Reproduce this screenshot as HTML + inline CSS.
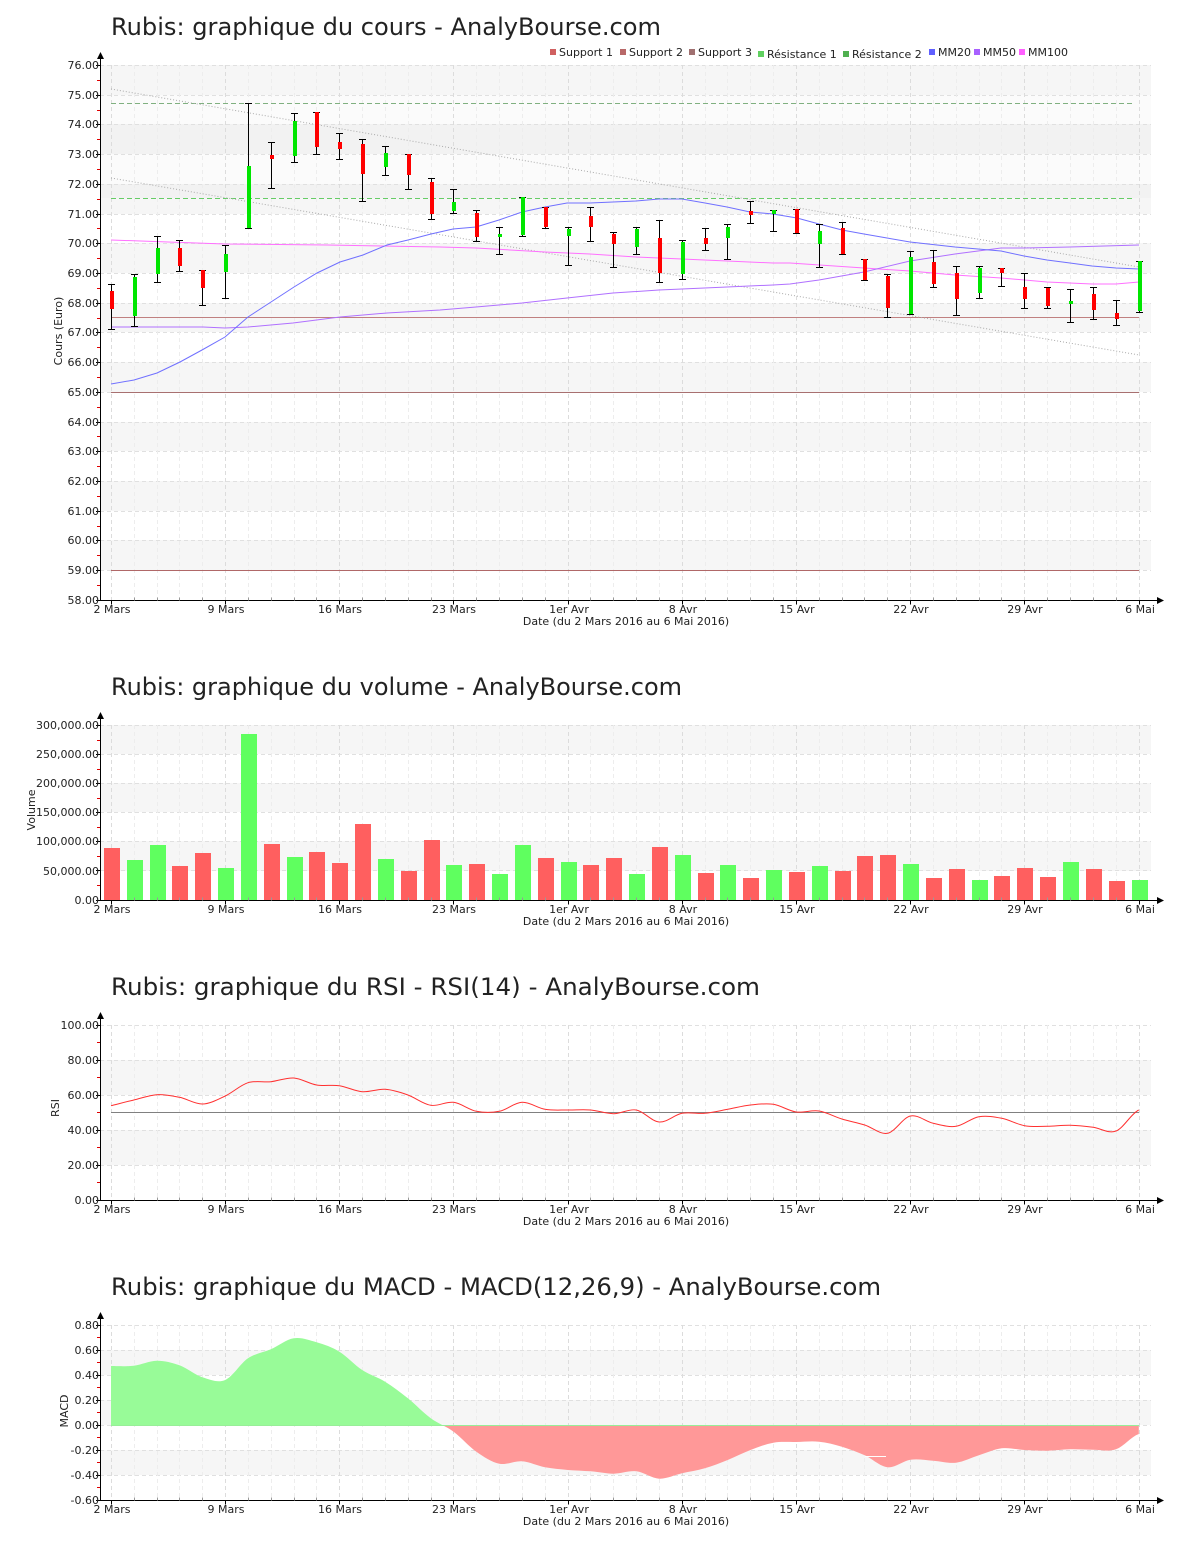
<!DOCTYPE html>
<html><head><meta charset="utf-8"><title>Rubis - AnalyBourse</title>
<style>
html,body{margin:0;padding:0;background:#fff;}
svg{display:block;}
text{font-family:"DejaVu Sans","Liberation Sans",sans-serif;fill:#222;}
.t{font-size:24px;}
.s{font-size:11px;}
</style></head>
<body>
<svg width="1200" height="1550" viewBox="0 0 1200 1550" xmlns="http://www.w3.org/2000/svg">
<defs>
<path id="dayV" d="M134.5 0v175M157.5 0v175M179.5 0v175M202.5 0v175M248.5 0v175M271.5 0v175M294.5 0v175M316.5 0v175M362.5 0v175M385.5 0v175M408.5 0v175M431.5 0v175M476.5 0v175M499.5 0v175M522.5 0v175M545.5 0v175M590.5 0v175M613.5 0v175M636.5 0v175M659.5 0v175M705.5 0v175M727.5 0v175M750.5 0v175M773.5 0v175M819.5 0v175M842.5 0v175M864.5 0v175M887.5 0v175M933.5 0v175M956.5 0v175M979.5 0v175M1001.5 0v175M1047.5 0v175M1070.5 0v175M1093.5 0v175M1116.5 0v175" fill="none" stroke="#ededed" stroke-dasharray="4 3"/>
<path id="weekV" d="M111.5 0v175M225.5 0v175M339.5 0v175M453.5 0v175M568.5 0v175M682.5 0v175M796.5 0v175M910.5 0v175M1024.5 0v175M1139.5 0v175" fill="none" stroke="#dcdcdc" stroke-dasharray="4 3"/>
<path id="dayV1" d="M134.5 0v535M157.5 0v535M179.5 0v535M202.5 0v535M248.5 0v535M271.5 0v535M294.5 0v535M316.5 0v535M362.5 0v535M385.5 0v535M408.5 0v535M431.5 0v535M476.5 0v535M499.5 0v535M522.5 0v535M545.5 0v535M590.5 0v535M613.5 0v535M636.5 0v535M659.5 0v535M705.5 0v535M727.5 0v535M750.5 0v535M773.5 0v535M819.5 0v535M842.5 0v535M864.5 0v535M887.5 0v535M933.5 0v535M956.5 0v535M979.5 0v535M1001.5 0v535M1047.5 0v535M1070.5 0v535M1093.5 0v535M1116.5 0v535" fill="none" stroke="#ededed" stroke-dasharray="4 3"/>
<path id="weekV1" d="M111.5 0v535M225.5 0v535M339.5 0v535M453.5 0v535M568.5 0v535M682.5 0v535M796.5 0v535M910.5 0v535M1024.5 0v535M1139.5 0v535" fill="none" stroke="#dcdcdc" stroke-dasharray="4 3"/>
<path id="xticks" d="M111.5 0v4M225.5 0v4M339.5 0v4M453.5 0v4M568.5 0v4M682.5 0v4M796.5 0v4M910.5 0v4M1024.5 0v4M1139.5 0v4" stroke="#000" fill="none"/>
<path id="xminor" d="M134.5 -3v3M157.5 -3v3M179.5 -3v3M202.5 -3v3M248.5 -3v3M271.5 -3v3M294.5 -3v3M316.5 -3v3M362.5 -3v3M385.5 -3v3M408.5 -3v3M431.5 -3v3M476.5 -3v3M499.5 -3v3M522.5 -3v3M545.5 -3v3M590.5 -3v3M613.5 -3v3M636.5 -3v3M659.5 -3v3M705.5 -3v3M727.5 -3v3M750.5 -3v3M773.5 -3v3M819.5 -3v3M842.5 -3v3M864.5 -3v3M887.5 -3v3M933.5 -3v3M956.5 -3v3M979.5 -3v3M1001.5 -3v3M1047.5 -3v3M1070.5 -3v3M1093.5 -3v3M1116.5 -3v3" stroke="#999" fill="none"/>
<clipPath id="clipUp"><rect x="100" y="1300" width="1060" height="125"/></clipPath>
<clipPath id="clipDn"><rect x="100" y="1425" width="1060" height="80"/></clipPath>
<path id="macdArea" d="M111 1366 C114.8 1366 126.2 1366.6 133.8 1365.7 S149.1 1360.8 156.7 1360.7 S171.9 1362.5 179.5 1365.3 S194.8 1374.9 202.4 1377.3 S217.6 1383.2 225.2 1380 S240.4 1363.4 248 1358.3 S263.3 1352.6 270.9 1349.3 S286.1 1339.5 293.7 1338.3 S309 1340.1 316.6 1342.3 S331.8 1347.1 339.4 1351.7 S354.6 1365 362.2 1370 S377.5 1377 385.1 1381.7 S400.3 1392.2 407.9 1398.3 S423.2 1412.7 430.8 1418.3 S446 1426.1 453.6 1431.7 S468.8 1446.4 476.4 1451.7 S491.7 1462.1 499.3 1463.7 S514.5 1460.7 522.1 1461.3 S537.4 1465.9 545 1467.3 S560.2 1469.3 567.8 1470 S583 1470.7 590.6 1471.3 S605.9 1473.7 613.5 1473.7 S628.7 1470.5 636.3 1471.3 S651.6 1478.4 659.2 1478.7 S674.4 1475 682 1473.3 S697.2 1470.5 704.8 1468.3 S720.1 1463.1 727.7 1460 S742.9 1452.9 750.5 1450 S765.8 1444 773.4 1442.7 S788.6 1442.2 796.2 1442 S811.4 1440.9 819 1441.7 S834.3 1444.4 841.9 1446.7 S857.1 1451.9 864.7 1455.3 S880 1466.6 887.6 1467.3 S902.8 1460.8 910.4 1459.7 S925.6 1460.2 933.2 1460.7 S948.5 1463.6 956.1 1462.7 S971.3 1457.7 978.9 1455.3 S994.2 1449.2 1001.8 1448.3 S1017 1449.6 1024.6 1450 S1039.8 1450.8 1047.4 1450.7 S1062.7 1449.5 1070.3 1449.3 S1085.5 1449.7 1093.1 1449.7 S1108.4 1451.9 1116 1449.3 S1131.2 1436.6 1138.8 1434 L1138.8 1425 L111 1425 Z"/>
</defs>

<!-- ================= CHART 1 : COURS ================= -->
<text class="t" x="111" y="35" textLength="550" lengthAdjust="spacingAndGlyphs">Rubis: graphique du cours - AnalyBourse.com</text>

<!-- legend -->
<rect x="550" y="49" width="6" height="6" fill="#d06060"/><text class="s" x="559" y="56">Support 1</text>
<rect x="620" y="49" width="6" height="6" fill="#b86868"/><text class="s" x="629" y="56">Support 2</text>
<rect x="689" y="49" width="6" height="6" fill="#a07070"/><text class="s" x="698" y="56">Support 3</text>
<rect x="758" y="51" width="6" height="6" fill="#60d060"/><text class="s" x="767" y="58">Résistance 1</text>
<rect x="843" y="51" width="6" height="6" fill="#50b050"/><text class="s" x="852" y="58">Résistance 2</text>
<rect x="929" y="49" width="6" height="6" fill="#6060ff"/><text class="s" x="938" y="56">MM20</text>
<rect x="974" y="49" width="6" height="6" fill="#a860ff"/><text class="s" x="983" y="56">MM50</text>
<rect x="1019" y="49" width="6" height="6" fill="#ff60ff"/><text class="s" x="1028" y="56">MM100</text>

<!-- bands -->
<g fill="#f6f6f6">
<rect x="100" y="65" width="1051" height="30"/>
<rect x="100" y="124" width="1051" height="30"/>
<rect x="100" y="184" width="1051" height="30"/>
<rect x="100" y="243" width="1051" height="30"/>
<rect x="100" y="303" width="1051" height="29"/>
<rect x="100" y="362" width="1051" height="30"/>
<rect x="100" y="422" width="1051" height="29"/>
<rect x="100" y="481" width="1051" height="30"/>
<rect x="100" y="540" width="1051" height="30"/>
</g>
<rect x="100" y="95" width="1051" height="103" fill="#000" fill-opacity="0.015"/>
<!-- grid -->
<path d="M100 65.5H1151M100 95.5H1151M100 124.5H1151M100 154.5H1151M100 184.5H1151M100 214.5H1151M100 243.5H1151M100 273.5H1151M100 303.5H1151M100 332.5H1151M100 362.5H1151M100 392.5H1151M100 422.5H1151M100 451.5H1151M100 481.5H1151M100 511.5H1151M100 540.5H1151M100 570.5H1151" stroke="#e0e0e0" stroke-dasharray="4 3" fill="none"/>
<g transform="translate(0,65)"><use href="#dayV1"/><use href="#weekV1"/></g>

<!-- support / resistance -->
<path d="M111 317.5H1139" stroke="#c08080" fill="none"/>
<path d="M111 392.5H1139" stroke="#a87070" fill="none"/>
<path d="M111 570.5H1139" stroke="#b06868" fill="none"/>
<path d="M111 103.5H1135" stroke="#80b080" stroke-dasharray="5 3" fill="none"/>
<path d="M111 198.5H1135" stroke="#66cc66" stroke-dasharray="5 3" fill="none"/>
<!-- trendlines -->
<path d="M111 89L1139 267M111 178L1139 355" stroke="#aaaaaa" stroke-dasharray="1 2" fill="none"/>

<!-- moving averages -->
<polyline fill="none" stroke="#ff70ff" stroke-width="1" points="111,240 168,242 225,244 327,245 440,247 476,248 545,252 590,254 636,257 682,259 727,261 773,263 790,263 864,268 910,271 955,275 1001,278 1047,282 1092,284 1116,284 1139,282"/>
<polyline fill="none" stroke="#b070ff" stroke-width="1" points="111,327 203,327 225,328 248,327 293,323 340,317 387,313 440,310 476,307 522,303 567,298 613,293 659,290 682,289 727,287 773,285 790,284 819,280 864,272 910,261 955,254 1001,248 1024,248 1070,247 1139,245"/>
<polyline fill="none" stroke="#7070ff" stroke-width="1" points="111,384 134,380 157,373 180,362 202,350 225,337 248,317 271,302 294,287 317,273 340,262 363,255 387,245 408,240 431,234 453,229 476,227 499,220 522,212 545,207 567,203 590,203 613,202 636,201 659,199 682,199 705,203 727,207 750,212 773,214 797,218 819,224 842,230 864,234 887,238 910,242 955,247 978,249 1001,251 1024,256 1047,260 1070,263 1092,266 1116,268 1139,269"/>

<!-- candle wicks -->
<path fill="none" stroke="#000" stroke-width="1" d="M111.5 284V329M108 284.5h7M108 329.5h7M134.5 274V326M131 274.5h7M131 326.5h7M157.5 236V282M154 236.5h7M154 282.5h7M179.5 240V271M176 240.5h7M176 271.5h7M202.5 270V305M199 270.5h7M199 305.5h7M225.5 245V298M222 245.5h7M222 298.5h7M248.5 103V228M245 103.5h7M245 228.5h7M271.5 142V188M268 142.5h7M268 188.5h7M294.5 113V162M291 113.5h7M291 162.5h7M316.5 112V154M313 112.5h7M313 154.5h7M339.5 133V159M336 133.5h7M336 159.5h7M362.5 139V201M359 139.5h7M359 201.5h7M385.5 146V175M382 146.5h7M382 175.5h7M408.5 154V189M405 154.5h7M405 189.5h7M431.5 178V219M428 178.5h7M428 219.5h7M453.5 189V213M450 189.5h7M450 213.5h7M476.5 210V241M473 210.5h7M473 241.5h7M499.5 227V254M496 227.5h7M496 254.5h7M522.5 197V236M519 197.5h7M519 236.5h7M545.5 207V228M542 207.5h7M542 228.5h7M568.5 227V265M565 227.5h7M565 265.5h7M590.5 207V241M587 207.5h7M587 241.5h7M613.5 232V267M610 232.5h7M610 267.5h7M636.5 227V254M633 227.5h7M633 254.5h7M659.5 220V282M656 220.5h7M656 282.5h7M682.5 240V279M679 240.5h7M679 279.5h7M705.5 228V250M702 228.5h7M702 250.5h7M727.5 224V259M724 224.5h7M724 259.5h7M750.5 201V223M747 201.5h7M747 223.5h7M773.5 210V231M770 210.5h7M770 231.5h7M796.5 209V233M793 209.5h7M793 233.5h7M819.5 224V267M816 224.5h7M816 267.5h7M842.5 222V254M839 222.5h7M839 254.5h7M864.5 259V280M861 259.5h7M861 280.5h7M887.5 274V317M884 274.5h7M884 317.5h7M910.5 251V314M907 251.5h7M907 314.5h7M933.5 250V287M930 250.5h7M930 287.5h7M956.5 266V315M953 266.5h7M953 315.5h7M979.5 266V298M976 266.5h7M976 298.5h7M1001.5 268V286M998 268.5h7M998 286.5h7M1024.5 273V308M1021 273.5h7M1021 308.5h7M1047.5 287V308M1044 287.5h7M1044 308.5h7M1070.5 289V322M1067 289.5h7M1067 322.5h7M1093.5 287V319M1090 287.5h7M1090 319.5h7M1116.5 300V325M1113 300.5h7M1113 325.5h7M1139.5 261V312M1136 261.5h7M1136 312.5h7"/>
<!-- red bodies -->
<g fill="#ff0000">
<rect x="110" y="291" width="4" height="18"/>
<rect x="178" y="248" width="4" height="18"/>
<rect x="201" y="270" width="4" height="18"/>
<rect x="270" y="155" width="4" height="4"/>
<rect x="315" y="112" width="4" height="35"/>
<rect x="338" y="142" width="4" height="7"/>
<rect x="361" y="144" width="4" height="30"/>
<rect x="407" y="154" width="4" height="21"/>
<rect x="430" y="182" width="4" height="32"/>
<rect x="475" y="213" width="4" height="24"/>
<rect x="544" y="207" width="4" height="20"/>
<rect x="589" y="216" width="4" height="11"/>
<rect x="612" y="234" width="4" height="10"/>
<rect x="658" y="238" width="4" height="35"/>
<rect x="704" y="238" width="4" height="6"/>
<rect x="749" y="211" width="4" height="4"/>
<rect x="795" y="209" width="4" height="24"/>
<rect x="841" y="228" width="4" height="26"/>
<rect x="863" y="259" width="4" height="21"/>
<rect x="886" y="276" width="4" height="32"/>
<rect x="932" y="262" width="4" height="22"/>
<rect x="955" y="273" width="4" height="26"/>
<rect x="1000" y="268" width="4" height="5"/>
<rect x="1023" y="287" width="4" height="12"/>
<rect x="1046" y="288" width="4" height="18"/>
<rect x="1092" y="294" width="4" height="16"/>
<rect x="1115" y="313" width="4" height="6"/>
</g>
<!-- green bodies -->
<g fill="#00e600">
<rect x="133" y="277" width="4" height="39"/>
<rect x="156" y="248" width="4" height="26"/>
<rect x="224" y="254" width="4" height="18"/>
<rect x="247" y="166" width="4" height="62"/>
<rect x="293" y="121" width="4" height="35"/>
<rect x="384" y="153" width="4" height="14"/>
<rect x="452" y="202" width="4" height="9"/>
<rect x="498" y="234" width="4" height="3"/>
<rect x="521" y="197" width="4" height="38"/>
<rect x="567" y="229" width="4" height="7"/>
<rect x="635" y="229" width="4" height="18"/>
<rect x="681" y="242" width="4" height="32"/>
<rect x="726" y="227" width="4" height="11"/>
<rect x="772" y="210" width="4" height="4"/>
<rect x="818" y="231" width="4" height="13"/>
<rect x="909" y="257" width="4" height="57"/>
<rect x="978" y="268" width="4" height="25"/>
<rect x="1069" y="301" width="4" height="3"/>
<rect x="1138" y="261" width="4" height="50"/>
</g>

<!-- axes chart 1 -->
<path d="M100.5 58V600.5H1157" stroke="#000" fill="none"/>
<path d="M100.5 52L97 59H104Z M1164 600.5L1157 597V604Z" fill="#000"/>
<path d="M96 65.5h4M96 95.5h4M96 124.5h4M96 154.5h4M96 184.5h4M96 214.5h4M96 243.5h4M96 273.5h4M96 303.5h4M96 332.5h4M96 362.5h4M96 392.5h4M96 422.5h4M96 451.5h4M96 481.5h4M96 511.5h4M96 540.5h4M96 570.5h4M96 600.5h4" stroke="#000" fill="none"/>
<path d="M97 80.5h3M97 110.5h3M97 139.5h3M97 169.5h3M97 199.5h3M97 228.5h3M97 258.5h3M97 288.5h3M97 318.5h3M97 347.5h3M97 377.5h3M97 407.5h3M97 436.5h3M97 466.5h3M97 496.5h3M97 526.5h3M97 555.5h3M97 585.5h3" stroke="#e00000" fill="none"/>
<g transform="translate(0,600.5)"><use href="#xticks"/><use href="#xminor"/></g>
<g text-anchor="end">
<text class="s" x="99" y="69">76.00</text>
<text class="s" x="99" y="99">75.00</text>
<text class="s" x="99" y="128">74.00</text>
<text class="s" x="99" y="158">73.00</text>
<text class="s" x="99" y="188">72.00</text>
<text class="s" x="99" y="218">71.00</text>
<text class="s" x="99" y="247">70.00</text>
<text class="s" x="99" y="277">69.00</text>
<text class="s" x="99" y="307">68.00</text>
<text class="s" x="99" y="336">67.00</text>
<text class="s" x="99" y="366">66.00</text>
<text class="s" x="99" y="396">65.00</text>
<text class="s" x="99" y="426">64.00</text>
<text class="s" x="99" y="455">63.00</text>
<text class="s" x="99" y="485">62.00</text>
<text class="s" x="99" y="515">61.00</text>
<text class="s" x="99" y="544">60.00</text>
<text class="s" x="99" y="574">59.00</text>
<text class="s" x="99" y="604">58.00</text>
</g>
<g text-anchor="middle">
<text class="s" x="112" y="613">2 Mars</text>
<text class="s" x="226" y="613">9 Mars</text>
<text class="s" x="340" y="613">16 Mars</text>
<text class="s" x="454" y="613">23 Mars</text>
<text class="s" x="569" y="613">1er Avr</text>
<text class="s" x="683" y="613">8 Avr</text>
<text class="s" x="797" y="613">15 Avr</text>
<text class="s" x="911" y="613">22 Avr</text>
<text class="s" x="1025" y="613">29 Avr</text>
<text class="s" x="1140" y="613">6 Mai</text>
<text class="s" x="626" y="625">Date (du 2 Mars 2016 au 6 Mai 2016)</text>
<text class="s" transform="translate(62,331) rotate(-90)">Cours (Euro)</text>
</g>

<!-- ================= CHART 2 : VOLUME ================= -->
<text class="t" x="111" y="695" textLength="571" lengthAdjust="spacingAndGlyphs">Rubis: graphique du volume - AnalyBourse.com</text>
<g fill="#f6f6f6">
<rect x="100" y="725" width="1051" height="29"/>
<rect x="100" y="783" width="1051" height="29"/>
<rect x="100" y="841" width="1051" height="30"/>
</g>
<path d="M100 725.5H1151M100 754.5H1151M100 783.5H1151M100 812.5H1151M100 841.5H1151M100 870.5H1151" stroke="#e0e0e0" stroke-dasharray="4 3" fill="none"/>
<g transform="translate(0,725)"><use href="#dayV"/><use href="#weekV"/></g>
<g fill="#ff5f5f">
<rect x="104" y="848" width="16" height="52"/>
<rect x="172" y="866" width="16" height="34"/>
<rect x="195" y="853" width="16" height="47"/>
<rect x="264" y="844" width="16" height="56"/>
<rect x="309" y="852" width="16" height="48"/>
<rect x="332" y="863" width="16" height="37"/>
<rect x="355" y="824" width="16" height="76"/>
<rect x="401" y="871" width="16" height="29"/>
<rect x="424" y="840" width="16" height="60"/>
<rect x="469" y="864" width="16" height="36"/>
<rect x="538" y="858" width="16" height="42"/>
<rect x="583" y="865" width="16" height="35"/>
<rect x="606" y="858" width="16" height="42"/>
<rect x="652" y="847" width="16" height="53"/>
<rect x="698" y="873" width="16" height="27"/>
<rect x="743" y="878" width="16" height="22"/>
<rect x="789" y="872" width="16" height="28"/>
<rect x="835" y="871" width="16" height="29"/>
<rect x="857" y="856" width="16" height="44"/>
<rect x="880" y="855" width="16" height="45"/>
<rect x="926" y="878" width="16" height="22"/>
<rect x="949" y="869" width="16" height="31"/>
<rect x="994" y="876" width="16" height="24"/>
<rect x="1017" y="868" width="16" height="32"/>
<rect x="1040" y="877" width="16" height="23"/>
<rect x="1086" y="869" width="16" height="31"/>
<rect x="1109" y="881" width="16" height="19"/>
</g>
<g fill="#5fff5f">
<rect x="127" y="860" width="16" height="40"/>
<rect x="150" y="845" width="16" height="55"/>
<rect x="218" y="868" width="16" height="32"/>
<rect x="241" y="734" width="16" height="166"/>
<rect x="287" y="857" width="16" height="43"/>
<rect x="378" y="859" width="16" height="41"/>
<rect x="446" y="865" width="16" height="35"/>
<rect x="492" y="874" width="16" height="26"/>
<rect x="515" y="845" width="16" height="55"/>
<rect x="561" y="862" width="16" height="38"/>
<rect x="629" y="874" width="16" height="26"/>
<rect x="675" y="855" width="16" height="45"/>
<rect x="720" y="865" width="16" height="35"/>
<rect x="766" y="870" width="16" height="30"/>
<rect x="812" y="866" width="16" height="34"/>
<rect x="903" y="864" width="16" height="36"/>
<rect x="972" y="880" width="16" height="20"/>
<rect x="1063" y="862" width="16" height="38"/>
<rect x="1132" y="880" width="16" height="20"/>
</g>
<path d="M100.5 719V900.5H1157" stroke="#000" fill="none"/>
<path d="M100.5 712L97 719H104Z M1164 900.5L1157 897V904Z" fill="#000"/>
<path d="M96 725.5h4M96 754.5h4M96 783.5h4M96 812.5h4M96 841.5h4M96 870.5h4M96 900.5h4" stroke="#000" fill="none"/>
<path d="M97 740.5h3M97 769.5h3M97 798.5h3M97 827.5h3M97 856.5h3M97 885.5h3" stroke="#e00000" fill="none"/>
<g transform="translate(0,900.5)"><use href="#xticks"/><use href="#xminor"/></g>
<g text-anchor="end">
<text class="s" x="99" y="729">300,000.00</text>
<text class="s" x="99" y="758">250,000.00</text>
<text class="s" x="99" y="787">200,000.00</text>
<text class="s" x="99" y="816">150,000.00</text>
<text class="s" x="99" y="845">100,000.00</text>
<text class="s" x="99" y="875">50,000.00</text>
<text class="s" x="99" y="904">0.00</text>
</g>
<g text-anchor="middle">
<text class="s" x="112" y="913">2 Mars</text>
<text class="s" x="226" y="913">9 Mars</text>
<text class="s" x="340" y="913">16 Mars</text>
<text class="s" x="454" y="913">23 Mars</text>
<text class="s" x="569" y="913">1er Avr</text>
<text class="s" x="683" y="913">8 Avr</text>
<text class="s" x="797" y="913">15 Avr</text>
<text class="s" x="911" y="913">22 Avr</text>
<text class="s" x="1025" y="913">29 Avr</text>
<text class="s" x="1140" y="913">6 Mai</text>
<text class="s" x="626" y="925">Date (du 2 Mars 2016 au 6 Mai 2016)</text>
<text class="s" transform="translate(35,810) rotate(-90)">Volume</text>
</g>

<!-- ================= CHART 3 : RSI ================= -->
<text class="t" x="111" y="995" textLength="649" lengthAdjust="spacingAndGlyphs">Rubis: graphique du RSI - RSI(14) - AnalyBourse.com</text>
<g fill="#f6f6f6">
<rect x="100" y="1060" width="1051" height="35"/>
<rect x="100" y="1130" width="1051" height="35"/>
</g>
<path d="M100 1025.5H1151M100 1060.5H1151M100 1095.5H1151M100 1130.5H1151M100 1165.5H1151" stroke="#e0e0e0" stroke-dasharray="4 3" fill="none"/>
<g transform="translate(0,1025)"><use href="#dayV"/><use href="#weekV"/></g>
<path d="M111 1112.5H1139" stroke="#808080" fill="none"/>
<path fill="none" stroke="#ff3030" stroke-width="1" d="M111 1105.7 C114.8 1104.8 126.2 1101.8 133.8 1100 S149.1 1095.2 156.7 1094.7 S171.9 1095.8 179.5 1097.3 S194.8 1104.2 202.4 1104 S217.6 1099.6 225.2 1096 S240.4 1085.1 248 1082.7 S263.3 1082.5 270.9 1081.7 S286.1 1077.5 293.7 1078 S309 1083.7 316.6 1085 S331.8 1084.6 339.4 1085.7 S354.6 1091.1 362.2 1091.7 S377.5 1088.8 385.1 1089.3 S400.3 1092.3 407.9 1095 S423.2 1104.1 430.8 1105.3 S446 1101.3 453.6 1102.3 S468.8 1109.8 476.4 1111.3 S491.7 1112.8 499.3 1111.3 S514.5 1102.6 522.1 1102.3 S537.4 1108 545 1109.3 S560.2 1109.9 567.8 1110 S583 1109.4 590.6 1110 S605.9 1113.7 613.5 1113.7 S628.7 1108.6 636.3 1110 S651.6 1121.4 659.2 1122 S674.4 1114.8 682 1113.3 S697.2 1114 704.8 1113.3 S720.1 1110.7 727.7 1109.3 S742.9 1105.8 750.5 1105 S765.8 1103.1 773.4 1104.3 S788.6 1110.9 796.2 1112 S811.4 1109.8 819 1111 S834.3 1116.7 841.9 1119 S857.1 1122.6 864.7 1125 S880 1134.8 887.6 1133.3 S902.8 1117.7 910.4 1116 S925.6 1121.6 933.2 1123.3 S948.5 1127.4 956.1 1126.3 S971.3 1118 978.9 1116.7 S994.2 1116.8 1001.8 1118.3 S1017 1124.4 1024.6 1125.7 S1039.8 1126.4 1047.4 1126.3 S1062.7 1125.1 1070.3 1125.3 S1085.5 1126.3 1093.1 1127.3 S1108.4 1133.9 1116 1131 S1131.2 1113.5 1138.8 1110"/>
<path d="M100.5 1019V1200.5H1157" stroke="#000" fill="none"/>
<path d="M100.5 1012L97 1019H104Z M1164 1200.5L1157 1197V1204Z" fill="#000"/>
<path d="M96 1025.5h4M96 1060.5h4M96 1095.5h4M96 1130.5h4M96 1165.5h4M96 1200.5h4" stroke="#000" fill="none"/>
<path d="M97 1042.5h3M97 1077.5h3M97 1112.5h3M97 1147.5h3M97 1182.5h3" stroke="#e00000" fill="none"/>
<g transform="translate(0,1200.5)"><use href="#xticks"/><use href="#xminor"/></g>
<g text-anchor="end">
<text class="s" x="99" y="1029">100.00</text>
<text class="s" x="99" y="1064">80.00</text>
<text class="s" x="99" y="1099">60.00</text>
<text class="s" x="99" y="1134">40.00</text>
<text class="s" x="99" y="1169">20.00</text>
<text class="s" x="99" y="1204">0.00</text>
</g>
<g text-anchor="middle">
<text class="s" x="112" y="1213">2 Mars</text>
<text class="s" x="226" y="1213">9 Mars</text>
<text class="s" x="340" y="1213">16 Mars</text>
<text class="s" x="454" y="1213">23 Mars</text>
<text class="s" x="569" y="1213">1er Avr</text>
<text class="s" x="683" y="1213">8 Avr</text>
<text class="s" x="797" y="1213">15 Avr</text>
<text class="s" x="911" y="1213">22 Avr</text>
<text class="s" x="1025" y="1213">29 Avr</text>
<text class="s" x="1140" y="1213">6 Mai</text>
<text class="s" x="626" y="1225">Date (du 2 Mars 2016 au 6 Mai 2016)</text>
<text class="s" transform="translate(59,1108) rotate(-90)">RSI</text>
</g>

<!-- ================= CHART 4 : MACD ================= -->
<text class="t" x="111" y="1295" textLength="770" lengthAdjust="spacingAndGlyphs">Rubis: graphique du MACD - MACD(12,26,9) - AnalyBourse.com</text>
<g fill="#f6f6f6">
<rect x="100" y="1350" width="1051" height="25"/>
<rect x="100" y="1400" width="1051" height="25"/>
<rect x="100" y="1450" width="1051" height="25"/>
</g>
<path d="M100 1325.5H1151M100 1350.5H1151M100 1375.5H1151M100 1400.5H1151M100 1425.5H1151M100 1450.5H1151M100 1475.5H1151" stroke="#e0e0e0" stroke-dasharray="4 3" fill="none"/>
<g transform="translate(0,1325)"><use href="#dayV"/><use href="#weekV"/></g>
<g clip-path="url(#clipUp)"><use href="#macdArea" fill="#98fb98"/></g>
<g clip-path="url(#clipDn)"><use href="#macdArea" fill="#ff9898"/></g>
<path d="M111 1425.5H1139" stroke="#98ee98" fill="none"/>
<path d="M865 1456.5H886" stroke="#ffffff" fill="none"/>
<path d="M100.5 1319V1500.5H1157" stroke="#000" fill="none"/>
<path d="M100.5 1312L97 1319H104Z M1164 1500.5L1157 1497V1504Z" fill="#000"/>
<path d="M96 1325.5h4M96 1350.5h4M96 1375.5h4M96 1400.5h4M96 1425.5h4M96 1450.5h4M96 1475.5h4M96 1500.5h4" stroke="#000" fill="none"/>
<path d="M97 1337.5h3M97 1362.5h3M97 1387.5h3M97 1412.5h3M97 1437.5h3M97 1462.5h3M97 1487.5h3" stroke="#e00000" fill="none"/>
<g transform="translate(0,1500.5)"><use href="#xticks"/><use href="#xminor"/></g>
<g text-anchor="end">
<text class="s" x="99" y="1329">0.80</text>
<text class="s" x="99" y="1354">0.60</text>
<text class="s" x="99" y="1379">0.40</text>
<text class="s" x="99" y="1404">0.20</text>
<text class="s" x="99" y="1429">0.00</text>
<text class="s" x="99" y="1454">-0.20</text>
<text class="s" x="99" y="1479">-0.40</text>
<text class="s" x="99" y="1504">-0.60</text>
</g>
<g text-anchor="middle">
<text class="s" x="112" y="1513">2 Mars</text>
<text class="s" x="226" y="1513">9 Mars</text>
<text class="s" x="340" y="1513">16 Mars</text>
<text class="s" x="454" y="1513">23 Mars</text>
<text class="s" x="569" y="1513">1er Avr</text>
<text class="s" x="683" y="1513">8 Avr</text>
<text class="s" x="797" y="1513">15 Avr</text>
<text class="s" x="911" y="1513">22 Avr</text>
<text class="s" x="1025" y="1513">29 Avr</text>
<text class="s" x="1140" y="1513">6 Mai</text>
<text class="s" x="626" y="1525">Date (du 2 Mars 2016 au 6 Mai 2016)</text>
<text class="s" transform="translate(68,1411) rotate(-90)">MACD</text>
</g>
</svg>
</body></html>
